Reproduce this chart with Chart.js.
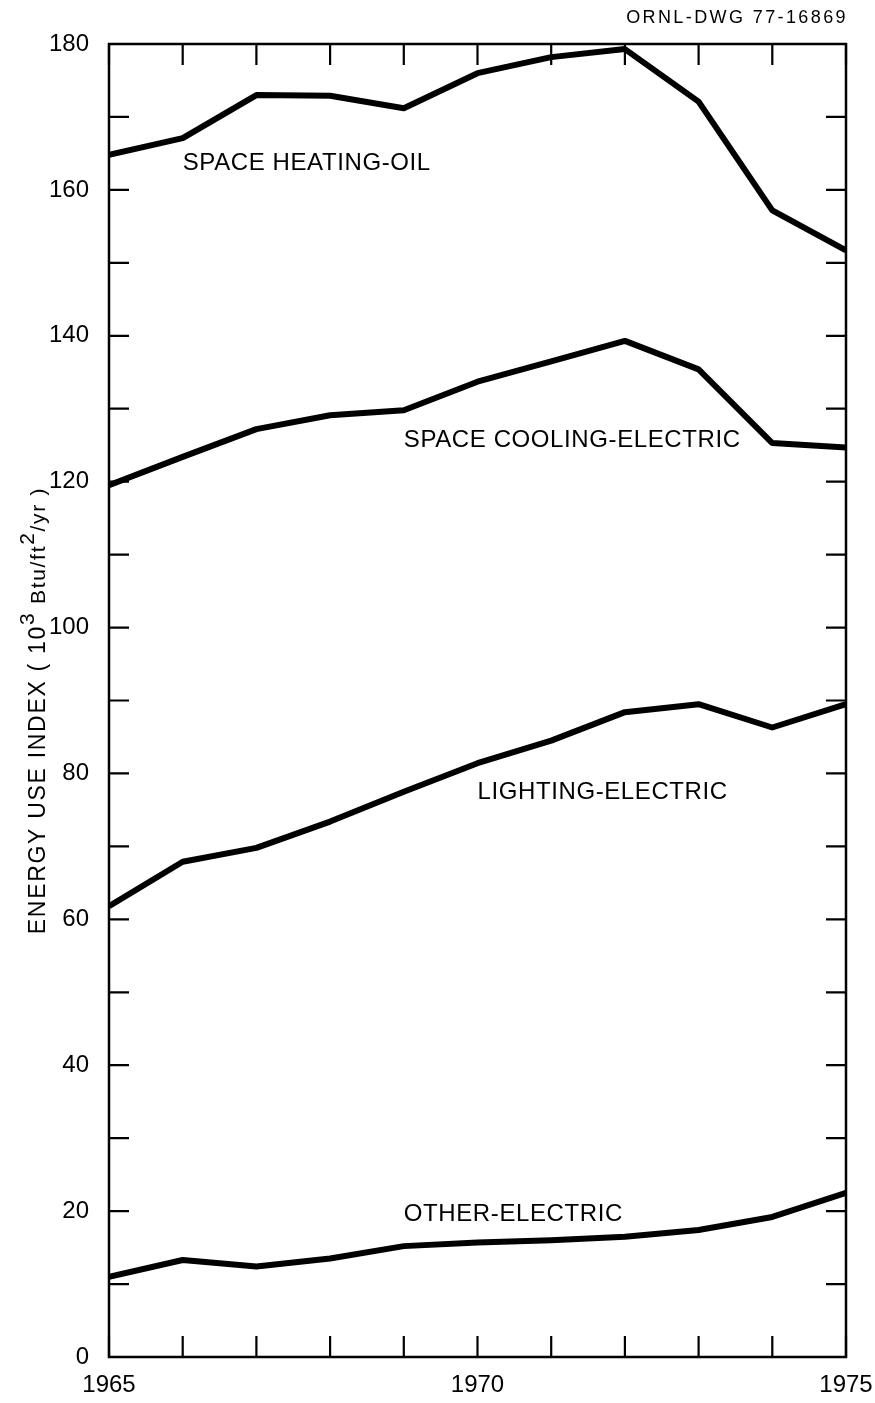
<!DOCTYPE html>
<html>
<head>
<meta charset="utf-8">
<script src="https://cdn.jsdelivr.net/npm/chart.js@4.4.1/dist/chart.umd.min.js"></script>
<style>
  html, body { margin: 0; padding: 0; background: #fff; }
</style>
</head>
<body>
<canvas id="chartEnergy" width="875" height="1403"></canvas>
<script>
// Dados (10^3 Btu/ft2/yr)
const years = [1965, 1966, 1967, 1968, 1969, 1970, 1971, 1972, 1973, 1974, 1975];
const heatingOil = [164.8, 167.1, 173.0, 172.9, 171.2, 176.0, 178.2, 179.3, 172.1, 157.2, 151.7];
const coolingElectric = [119.5, 123.4, 127.2, 129.1, 129.8, 133.7, 136.5, 139.3, 135.4, 125.3, 124.7];
const lightingElectric = [61.8, 67.9, 69.8, 73.4, 77.5, 81.4, 84.5, 88.4, 89.5, 86.3, 89.5];
const otherElectric = [11.0, 13.3, 12.4, 13.5, 15.2, 15.7, 16.0, 16.5, 17.4, 19.2, 22.5];
const seriesNames = ['SPACE HEATING-OIL', 'SPACE COOLING-ELECTRIC', 'LIGHTING-ELECTRIC', 'OTHER-ELECTRIC'];
const yearLabels = [1965, 1970, 1975];
const yTicks = [0, 20, 40, 60, 80, 100, 120, 140, 160, 180];

const FONT = '"Liberation Sans", Arial, sans-serif';

function toPoints(values) {
    return values.map((v, i) => ({ x: years[i], y: v }));
}

// Moldura, marcas internas, rótulos das curvas e título do eixo
const framePlugin = {
    id: 'frame',
    afterDatasetsDraw(chart) {
        const { ctx, chartArea: a, scales } = chart;
        ctx.save();
        ctx.strokeStyle = '#000';
        ctx.lineWidth = 2.5;
        ctx.strokeRect(a.left, a.top, a.right - a.left, a.bottom - a.top);

        ctx.lineWidth = 2.2;
        ctx.beginPath();
        for (let yr = years[0]; yr <= years[years.length - 1]; yr++) {
            const x = scales.x.getPixelForValue(yr);
            ctx.moveTo(x, a.bottom); ctx.lineTo(x, a.bottom - 21);
            ctx.moveTo(x, a.top); ctx.lineTo(x, a.top + 21);
        }
        for (let v = 0; v <= 180; v += 10) {
            const y = scales.y.getPixelForValue(v);
            ctx.moveTo(a.left, y); ctx.lineTo(a.left + 20, y);
            ctx.moveTo(a.right, y); ctx.lineTo(a.right - 20, y);
        }
        ctx.stroke();
        ctx.restore();
    },
    afterDraw(chart) {
        const { ctx, chartArea: a, scales } = chart;
        ctx.save();
        ctx.fillStyle = '#000';

        // rótulos das curvas (posição em unidades de dados)
        const spots = [[1966, 163.6], [1969, 125.6], [1970, 77.35], [1969, 19.5]];
        ctx.font = '24px ' + FONT;
        ctx.letterSpacing = '0.6px';
        ctx.textBaseline = 'middle';
        ctx.textAlign = 'left';
        seriesNames.forEach((name, i) => {
            ctx.fillText(name, scales.x.getPixelForValue(spots[i][0]), scales.y.getPixelForValue(spots[i][1]));
        });

        // número do desenho
        ctx.font = '18px ' + FONT;
        ctx.letterSpacing = '2.4px';
        ctx.textAlign = 'right';
        ctx.textBaseline = 'alphabetic';
        ctx.fillText('ORNL-DWG 77-16869', a.right + 2, 23);

        // título do eixo y com expoentes
        const parts = [
            ['ENERGY USE INDEX ( 10', 0, 23],
            ['3', -11, 21],
            [' Btu/ft', 0, 21],
            ['2', -11, 21],
            ['/yr )', 0, 21],
        ];
        ctx.letterSpacing = '1.7px';
        ctx.textAlign = 'left';
        let total = 0;
        parts.forEach(p => { ctx.font = p[2] + 'px ' + FONT; total += ctx.measureText(p[0]).width; });
        ctx.translate(a.left - 64, (a.top + a.bottom) / 2 + 10);
        ctx.rotate(-Math.PI / 2);
        let pos = -total / 2;
        parts.forEach(p => {
            ctx.font = p[2] + 'px ' + FONT;
            ctx.fillText(p[0], pos, p[1]);
            pos += ctx.measureText(p[0]).width;
        });
        ctx.restore();
    }
};

const lineStyle = {
    borderColor: '#000',
    borderWidth: 6,
    pointRadius: 0,
    tension: 0,
    borderJoinStyle: 'round',
    fill: false,
};

const ctxEnergy = document.getElementById('chartEnergy').getContext('2d');
new Chart(ctxEnergy, {
    type: 'line',
    data: {
        datasets: [
            { label: seriesNames[0], data: toPoints(heatingOil), ...lineStyle },
            { label: seriesNames[1], data: toPoints(coolingElectric), ...lineStyle },
            { label: seriesNames[2], data: toPoints(lightingElectric), ...lineStyle },
            { label: seriesNames[3], data: toPoints(otherElectric), ...lineStyle },
        ],
    },
    options: {
        responsive: false,
        animation: false,
        layout: { padding: { top: 44, right: 29, left: 0, bottom: 0 } },
        plugins: {
            legend: { display: false },
            tooltip: { enabled: false },
        },
        scales: {
            x: {
                type: 'linear',
                min: 1965,
                max: 1975,
                afterBuildTicks: s => { s.ticks = yearLabels.map(v => ({ value: v })); },
                afterFit: s => { s.height = 46; s.paddingLeft = 0; s.paddingRight = 0; },
                grid: { display: false, drawTicks: false },
                border: { display: false },
                ticks: {
                    autoSkip: false,
                    maxRotation: 0,
                    padding: 14,
                    color: '#000',
                    font: { family: FONT, size: 24 },
                    callback: v => String(v),
                },
            },
            y: {
                min: 0,
                max: 180,
                afterBuildTicks: s => { s.ticks = yTicks.map(v => ({ value: v })); },
                afterFit: s => { s.width = 109; s.paddingTop = 0; s.paddingBottom = 0; },
                grid: { display: false, drawTicks: false },
                border: { display: false },
                ticks: {
                    padding: 20,
                    color: '#000',
                    font: { family: FONT, size: 24 },
                },
            },
        },
    },
    plugins: [framePlugin],
});
</script>
</body>
</html>
